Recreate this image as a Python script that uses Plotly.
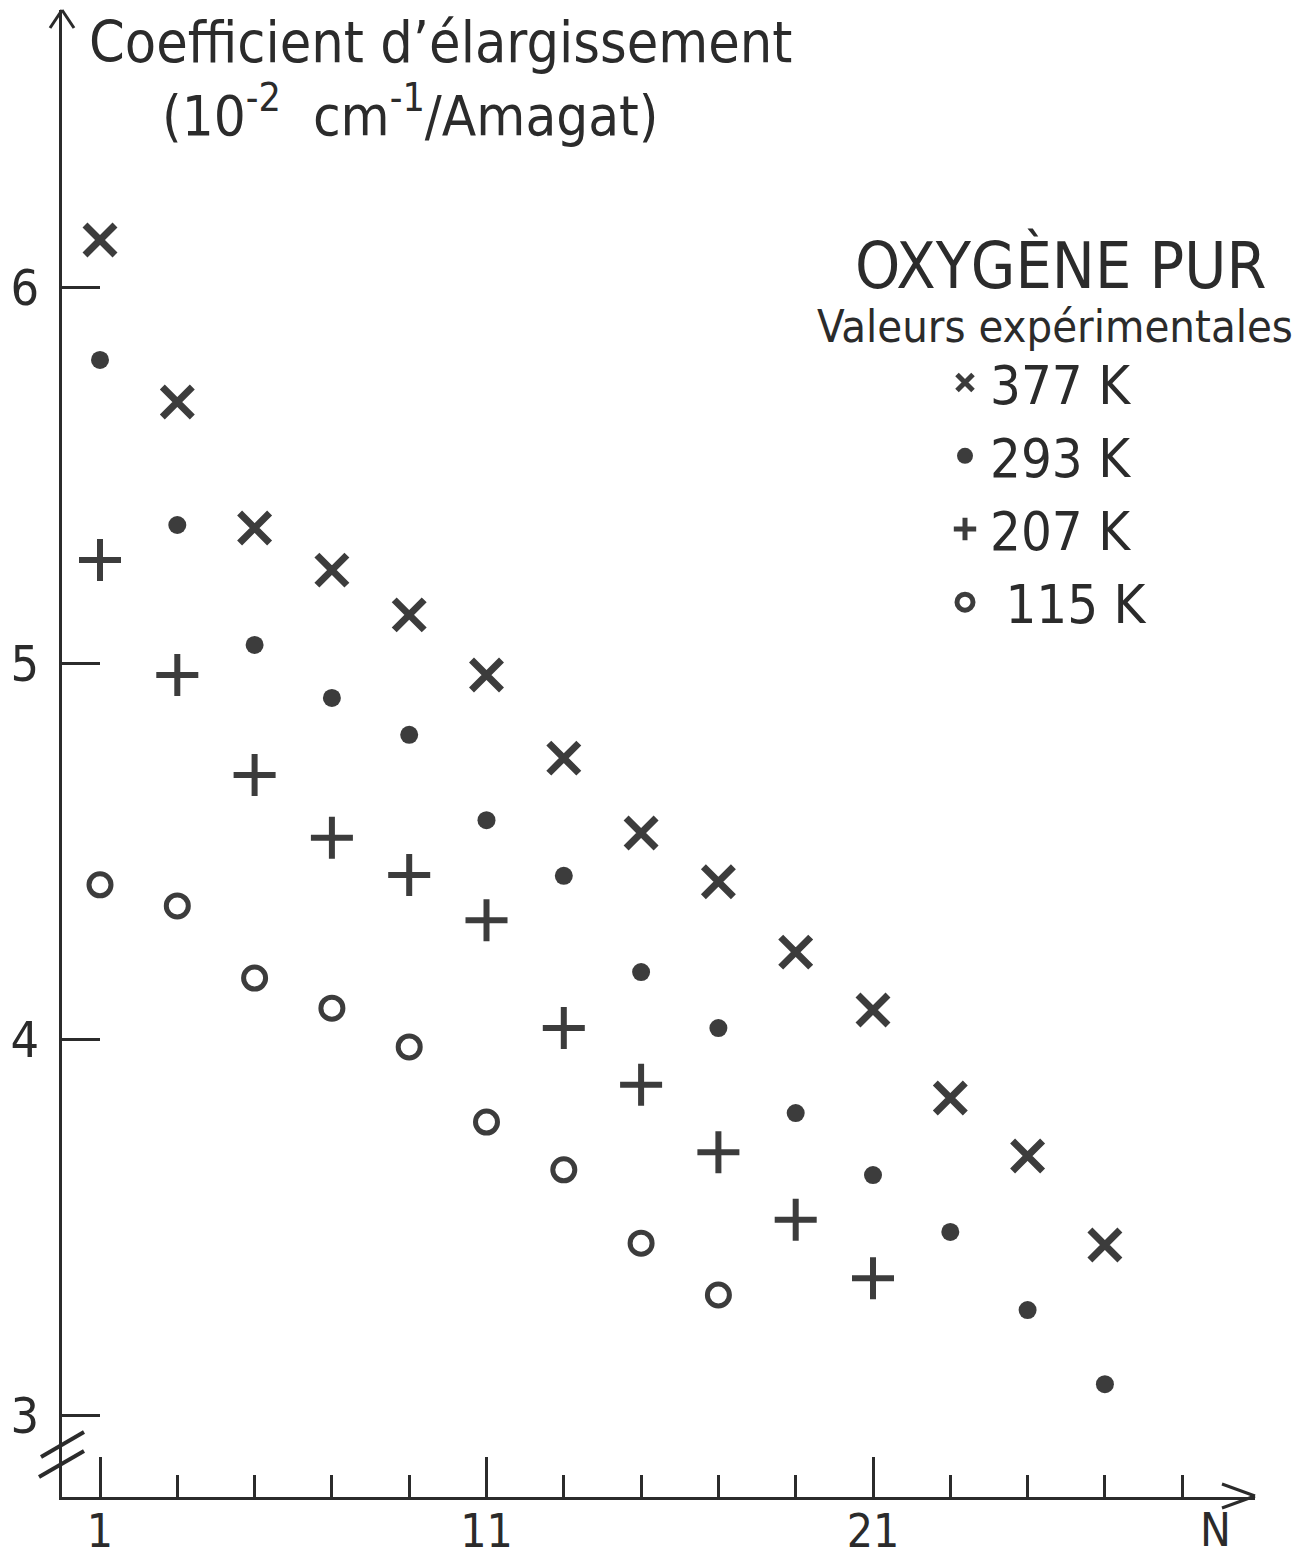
import plotly.graph_objects as go

# ---------------- data ----------------
N_377 = [1, 3, 5, 7, 9, 11, 13, 15, 17, 19, 21, 23, 25, 27]
C_377 = [6.125, 5.694, 5.359, 5.247, 5.128, 4.968, 4.747, 4.548, 4.418, 4.231, 4.077, 3.843, 3.689, 3.452]

N_293 = [1, 3, 5, 7, 9, 11, 13, 15, 17, 19, 21, 23, 25, 27]
C_293 = [5.806, 5.367, 5.048, 4.907, 4.809, 4.582, 4.434, 4.178, 4.029, 3.803, 3.638, 3.487, 3.279, 3.082]

N_207 = [1, 3, 5, 7, 9, 11, 13, 15, 17, 19, 21]
C_207 = [5.274, 4.968, 4.702, 4.535, 4.436, 4.316, 4.029, 3.878, 3.699, 3.519, 3.364]

N_115 = [1, 3, 5, 7, 9, 11, 13, 15, 17]
C_115 = [4.410, 4.354, 4.162, 4.082, 3.979, 3.779, 3.652, 3.457, 3.319]

series_names = ["377 K", "293 K", "207 K", "\u00a0115 K"]

x_tickvals = [1, 11, 21]
x_ticktext = ["1", "11", "21"]
y_tickvals = [3, 4, 5, 6]
y_ticktext = ["3", "4", "5", "6"]

title_line1 = "Coefficient d\u2019élargissement"
title_line2 = "(10<sup>-2</sup>  cm<sup>-1</sup>/Amagat)"
legend_head1 = "OXYGÈNE PUR"
legend_head2 = "Valeurs expérimentales"
x_axis_name = "N"

# ---------------- style ----------------
INK = "#2b2b2b"
MARK = "#3c3c3c"
FONT = "DejaVu Sans Condensed, DejaVu Sans, sans-serif"

OFF = 8  # default page body margin
W, H = 1310 - OFF, 1557 - OFF
L, R, T, B = 62 - OFF, 1310 - 1255, 10 - OFF, 1557 - 1497
PW, PH = W - L - R, H - T - B


def px(x):
    # screenshot pixel x -> paper fraction
    return (x - OFF - L) / PW


def py(y):
    # screenshot pixel y -> paper fraction
    return (H - B - (y - OFF)) / PH


fig = go.Figure()

fig.add_trace(go.Scatter(
    x=N_377, y=C_377, mode="markers", name=series_names[0],
    marker=dict(symbol="x-thin-open", size=30, color=MARK, line=dict(width=7, color=MARK)),
))
fig.add_trace(go.Scatter(
    x=N_293, y=C_293, mode="markers", name=series_names[1],
    marker=dict(symbol="circle", size=18, color=MARK, line=dict(width=0)),
))
fig.add_trace(go.Scatter(
    x=N_207, y=C_207, mode="markers", name=series_names[2],
    marker=dict(symbol="cross-thin-open", size=30, color=MARK, line=dict(width=6, color=MARK)),
))
fig.add_trace(go.Scatter(
    x=N_115, y=C_115, mode="markers", name=series_names[3],
    marker=dict(symbol="circle-open", size=22, color=MARK, line=dict(width=5, color=MARK)),
))

# axes geometry: N=1 at x=100px, 38.65 px per unit; C=3 at y=1415px, 376 px per unit
x_per = 38.65
y_per = 376.0
x_lo = 1 - (100 - 62) / x_per
x_hi = x_lo + PW / x_per
y_lo = 3 - (1497 - 1415) / y_per
y_hi = y_lo + PH / y_per

fig.update_xaxes(
    range=[x_lo, x_hi], showgrid=False, zeroline=False, automargin=False,
    showline=True, linecolor=INK, linewidth=3,
    ticks="inside", ticklen=40, tickwidth=3, tickcolor=INK,
    tickvals=x_tickvals, ticktext=x_ticktext,
    tickfont=dict(family=FONT, size=46, color=INK),
    ticklabelstandoff=-8,
    minor=dict(ticks="inside", ticklen=22, tickwidth=3, tickcolor=INK, dtick=2, tick0=1, showgrid=False),
)
fig.update_yaxes(
    range=[y_lo, y_hi], showgrid=False, zeroline=False, automargin=False,
    showline=True, linecolor=INK, linewidth=3,
    ticks="inside", ticklen=38, tickwidth=3, tickcolor=INK,
    tickvals=y_tickvals, ticktext=y_ticktext,
    tickfont=dict(family=FONT, size=50, color=INK),
    ticklabelstandoff=10,
)

shapes = []
# arrow at top of y axis
shapes.append(dict(type="line", xref="paper", yref="paper", x0=px(50), y0=py(28), x1=px(62), y1=py(10), line=dict(color=INK, width=3)))
shapes.append(dict(type="line", xref="paper", yref="paper", x0=px(74), y0=py(28), x1=px(62), y1=py(10), line=dict(color=INK, width=3)))
# open arrow at right end of x axis
shapes.append(dict(type="line", xref="paper", yref="paper", x0=px(1222), y0=py(1484), x1=px(1255), y1=py(1496), line=dict(color=INK, width=3)))
shapes.append(dict(type="line", xref="paper", yref="paper", x0=px(1222), y0=py(1508), x1=px(1255), y1=py(1496), line=dict(color=INK, width=3)))
# axis break marks
shapes.append(dict(type="line", xref="paper", yref="paper", x0=px(41), y0=py(1457), x1=px(84), y1=py(1432), line=dict(color=INK, width=4)))
shapes.append(dict(type="line", xref="paper", yref="paper", x0=px(39), y0=py(1477), x1=px(84), y1=py(1451), line=dict(color=INK, width=4)))

annotations = [
    dict(text=title_line1, xref="paper", yref="paper", x=px(440), y=py(42), showarrow=False,
         xanchor="center", yanchor="middle", font=dict(family=FONT, size=57, color=INK)),
    dict(text=title_line2, xref="paper", yref="paper", x=px(410), y=py(112), showarrow=False,
         xanchor="center", yanchor="middle", font=dict(family=FONT, size=56, color=INK)),
    dict(text=legend_head1, xref="paper", yref="paper", x=px(1060), y=py(265), showarrow=False,
         xanchor="center", yanchor="middle", font=dict(family=FONT, size=64, color=INK)),
    dict(text=legend_head2, xref="paper", yref="paper", x=px(1055), y=py(327), showarrow=False,
         xanchor="center", yanchor="middle", font=dict(family=FONT, size=45, color=INK)),
    dict(text=x_axis_name, xref="paper", yref="paper", x=px(1215), y=py(1530), showarrow=False,
         xanchor="center", yanchor="middle", font=dict(family=FONT, size=46, color=INK)),
]

fig.update_layout(
    width=W, height=H,
    margin=dict(l=L, r=R, t=T, b=B, autoexpand=False),
    paper_bgcolor="white", plot_bgcolor="white",
    showlegend=True,
    legend=dict(
        x=px(940), y=py(341), xanchor="left", yanchor="top",
        font=dict(family=FONT, size=54, color=INK),
        bgcolor="rgba(0,0,0,0)", borderwidth=0,
        itemwidth=40,
    ),
    shapes=shapes,
    annotations=annotations,
)

fig.write_html("out.html")
